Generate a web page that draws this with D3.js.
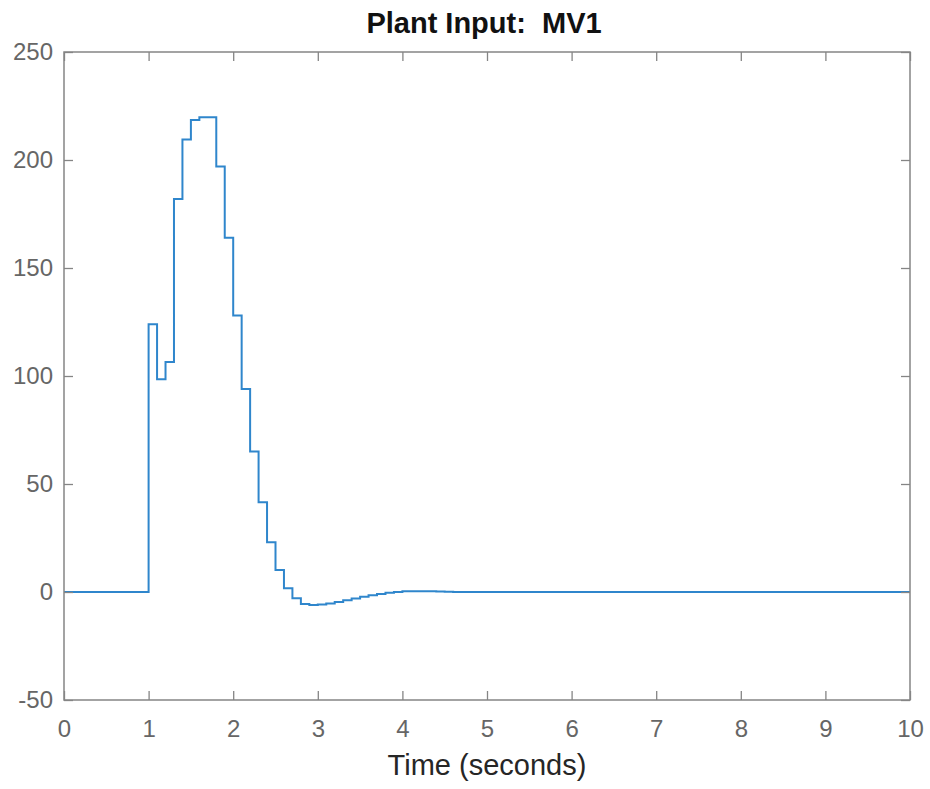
<!DOCTYPE html>
<html>
<head>
<meta charset="utf-8">
<script src="https://cdn.jsdelivr.net/npm/d3@7"></script>
<style>
  body { margin: 0; background: #fff; }
  text { font-family: "Liberation Sans", Arial, Helvetica, sans-serif; }
</style>
</head>
<body>
<div id="chart"></div>
<script>
// plant input MV1 - zero-order-hold control moves, 0.1 s sample time

const chartTitle = "Plant Input:  MV1";
const xLabel = "Time (seconds)";

// start time of each hold interval and the value held
const sampleTimes = [0, 1.0, 1.1, 1.2, 1.3, 1.4, 1.5, 1.6, 1.7, 1.8, 1.9,
    2.0, 2.1, 2.2, 2.3, 2.4, 2.5, 2.6, 2.7, 2.8, 2.9,
    3.0, 3.1, 3.2, 3.3, 3.4, 3.5, 3.6, 3.7, 3.8, 3.9,
    4.0, 4.1, 4.2, 4.3, 4.4, 4.5, 4.6, 10];
const mvValues = [0, 124, 98.5, 106.5, 182, 209.5, 218.5, 219.8, 219.8, 197, 164,
    128, 94, 65, 41.5, 23, 10.2, 1.7, -2.9, -5.6, -6.0,
    -5.8, -5.3, -4.6, -3.8, -3.0, -2.2, -1.5, -0.9, -0.4, 0.0,
    0.3, 0.4, 0.4, 0.3, 0.2, 0.1, 0.0, 0.0];

const xTicks = [0, 1, 2, 3, 4, 5, 6, 7, 8, 9, 10];
const yTicks = [-50, 0, 50, 100, 150, 200, 250];

const width = 930;
const height = 789;
const plot = { left: 64, right: 910, top: 52, bottom: 700 };
const tickLen = 9;
const axisColor = "#858585";
const labelColor = "#666666";

const data = sampleTimes.map((t, i) => ({ t: t, v: mvValues[i] }));

const x = d3.scaleLinear().domain([0, 10]).range([plot.left, plot.right]);
const y = d3.scaleLinear().domain([-50, 250]).range([plot.bottom, plot.top]);

const svg = d3.select("#chart")
    .append("svg")
    .attr("width", width)
    .attr("height", height);

// data line
const line = d3.line()
    .x(d => x(d.t))
    .y(d => y(d.v))
    .curve(d3.curveStepAfter);

svg.append("path")
    .datum(data)
    .attr("fill", "none")
    .attr("stroke", "#2f86cc")
    .attr("stroke-width", 2)
    .attr("d", line);

// axes, ticks pointing inward on all four sides
function styleAxis(g) {
    g.select(".domain").remove();
    g.selectAll(".tick line").attr("stroke", axisColor).attr("stroke-width", 1.3);
    g.selectAll(".tick text")
        .attr("fill", labelColor)
        .style("font-size", "24px")
        .style("font-family", "'Liberation Sans', Arial, sans-serif");
}

const plainNum = d => String(d);  // hyphen minus, like the original

svg.append("g")
    .attr("transform", `translate(0,${plot.bottom})`)
    .call(d3.axisBottom(x).tickValues(xTicks).tickFormat(plainNum)
        .tickSizeInner(-tickLen).tickSizeOuter(0).tickPadding(20))
    .call(styleAxis);

svg.append("g")
    .attr("transform", `translate(0,${plot.top})`)
    .call(d3.axisTop(x).tickValues(xTicks).tickFormat("")
        .tickSizeInner(-tickLen).tickSizeOuter(0))
    .call(styleAxis);

svg.append("g")
    .attr("transform", `translate(${plot.left},0)`)
    .call(d3.axisLeft(y).tickValues(yTicks).tickFormat(plainNum)
        .tickSizeInner(-tickLen).tickSizeOuter(0).tickPadding(11))
    .call(styleAxis);

svg.append("g")
    .attr("transform", `translate(${plot.right},0)`)
    .call(d3.axisRight(y).tickValues(yTicks).tickFormat("")
        .tickSizeInner(-tickLen).tickSizeOuter(0))
    .call(styleAxis);

// box
svg.append("rect")
    .attr("x", plot.left)
    .attr("y", plot.top)
    .attr("width", plot.right - plot.left)
    .attr("height", plot.bottom - plot.top)
    .attr("fill", "none")
    .attr("stroke", axisColor)
    .attr("stroke-width", 1.5);

svg.append("text")
    .attr("x", (plot.left + plot.right) / 2 - 3)
    .attr("y", 33)
    .attr("text-anchor", "middle")
    .attr("fill", "#111")
    .style("font-size", "29px")
    .style("font-weight", "bold")
    .style("white-space", "pre")
    .text(chartTitle);

svg.append("text")
    .attr("x", (plot.left + plot.right) / 2)
    .attr("y", 775)
    .attr("text-anchor", "middle")
    .attr("fill", "#262626")
    .style("font-size", "29px")
    .text(xLabel);
</script>
</body>
</html>
